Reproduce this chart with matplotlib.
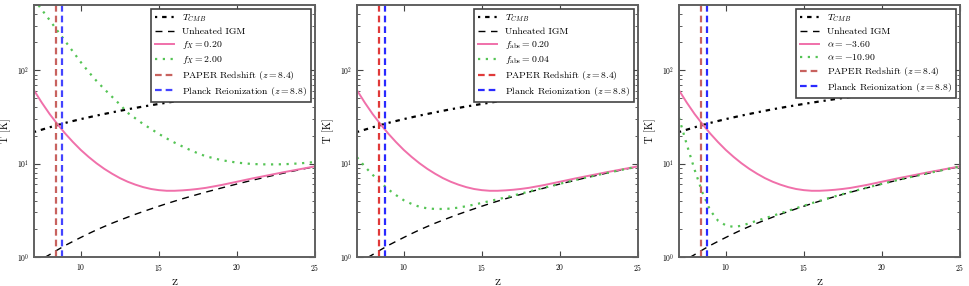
import matplotlib
matplotlib.use("Agg")
import matplotlib.pyplot as plt

plt.rcParams['font.family'] = 'serif'
plt.rcParams['font.serif'] = ['cmr10']
plt.rcParams['mathtext.fontset'] = 'cm'
plt.rcParams['axes.formatter.use_mathtext'] = True
plt.rcParams['axes.unicode_minus'] = False

# redshift grid (read at these points)
z_cmb = [7, 8, 9, 10, 11, 12, 13, 14, 15, 16, 17, 18, 19, 20, 21, 22, 23, 24, 25]
t_cmb = [21.8, 24.5, 27.3, 30.0, 32.7, 35.4, 38.2, 40.9, 43.6, 46.3, 49.1, 51.8,
         54.5, 57.2, 59.9, 62.7, 65.4, 68.1, 70.9]

z_grid = [7, 7.5, 8, 8.5, 9, 9.5, 10, 10.5, 11, 11.5, 12, 12.5, 13, 13.5, 14, 14.5,
          15, 15.5, 16, 16.5, 17, 17.5, 18, 19, 20, 21, 22, 23, 24, 25]

t_igm = [0.84, 0.95, 1.06, 1.19, 1.33, 1.47, 1.62, 1.78, 1.95, 2.12, 2.30, 2.48,
         2.67, 2.87, 3.07, 3.28, 3.50, 3.73, 3.96, 4.20, 4.44, 4.69, 4.95, 5.48,
         6.05, 6.65, 7.27, 7.92, 8.60, 9.30]

t_fid = [61, 45, 34, 26.5, 21, 17, 14, 11.8, 10.1, 8.8, 7.8, 7.0, 6.4, 5.95, 5.6,
         5.35, 5.2, 5.12, 5.12, 5.17, 5.25, 5.36, 5.5, 5.9, 6.4, 6.95, 7.5, 8.1,
         8.7, 9.35]

t_fx2 = [580, 445, 345, 265, 205, 158, 122, 96, 77, 63, 52, 43, 35, 30.5, 26.5,
         23.5, 20.8, 18.6, 16.8, 15.3, 14.0, 12.9, 12.0, 10.9, 10.25, 9.9, 9.8,
         9.85, 10.05, 10.4]

t_fabs = [11.7, 9.3, 7.6, 6.3, 5.3, 4.6, 4.05, 3.7, 3.45, 3.32, 3.27, 3.27, 3.3,
          3.38, 3.5, 3.64, 3.8, 3.97, 4.15, 4.34, 4.55, 4.77, 5.02, 5.53, 6.09,
          6.68, 7.3, 7.94, 8.61, 9.31]

t_alpha = [31, 16, 8.6, 4.9, 3.15, 2.45, 2.18, 2.1, 2.16, 2.3, 2.45, 2.6, 2.76,
           2.94, 3.13, 3.33, 3.54, 3.77, 3.99, 4.23, 4.47, 4.72, 4.98, 5.51, 6.08,
           6.67, 7.29, 7.93, 8.61, 9.31]

z_paper = 8.4
z_planck = 8.8

panels = [
    (r'$f_X = 0.20$', r'$f_X = 2.00$', t_fx2, '#c8625e', '#4444ff'),
    (r'$f_{\rm abs} = 0.20$', r'$f_{\rm abs} = 0.04$', t_fabs, '#e03a3a', '#2a2aff'),
    (r'$\alpha = -3.60$', r'$\alpha = -10.90$', t_alpha, '#c8625e', '#2a2aff'),
]

fig = plt.figure(figsize=(9.69, 2.86), dpi=100)
lefts = [34, 357, 679]

for left, (lab_fid, lab_var, t_var, red, blue) in zip(lefts, panels):
    ax = fig.add_axes([left / 969, 29 / 286, 281 / 969, 252 / 286])
    ax.plot(z_cmb, t_cmb, color='black', lw=1.6, ls=(0, (1, 2.2, 2, 2.2)), label=r'$T_{CMB}$')
    ax.plot(z_grid, t_igm, color='black', lw=1.0, ls=(0, (5, 4)), label='Unheated IGM')
    ax.plot(z_grid, t_fid, color='#f070aa', lw=1.4, label=lab_fid)
    ax.plot(z_grid, t_var, color='#55c455', lw=1.6, ls=(0, (1, 2.5)), label=lab_var)
    ax.axvline(z_paper, color=red, lw=1.6, ls=(0, (3, 1.8)), label=r'PAPER Redshift ($z = 8.4$)')
    ax.axvline(z_planck, color=blue, lw=1.6, ls=(0, (3, 1.8)), label=r'Planck Reionization ($z = 8.8$)')

    ax.set_yscale('log')
    ax.set_xlim(7, 25)
    ax.set_ylim(1, 500)
    ax.set_xticks([10, 15, 20, 25])
    ax.tick_params(which='both', direction='in', top=True, right=True, labelsize=5.5,
                   color='#444444')
    ax.tick_params(which='major', length=4, width=0.8)
    ax.tick_params(which='minor', length=2, width=0.6)
    for sp in ax.spines.values():
        sp.set_color('#606060')
        sp.set_linewidth(1.4)
    ax.set_xlabel('Z', fontsize=7)
    ax.set_ylabel('T [K]', fontsize=7.5, labelpad=4)

    leg = ax.legend(loc='upper right', fontsize=7, handlelength=2.0, borderpad=0.4,
                    labelspacing=0.3, fancybox=False, framealpha=1.0,
                    borderaxespad=0.4)
    leg.get_frame().set_edgecolor('#444444')
    leg.get_frame().set_linewidth(1.2)

fig.savefig('out.png', dpi=100)
